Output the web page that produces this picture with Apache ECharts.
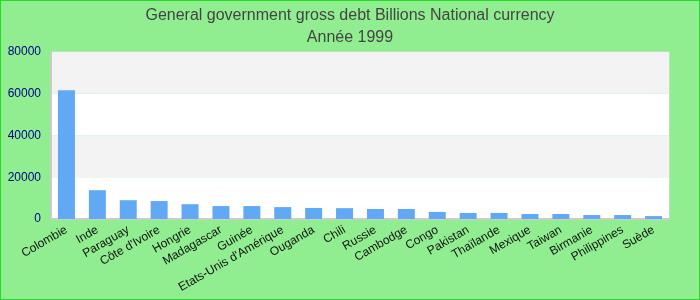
<!DOCTYPE html>
<html><head><meta charset="utf-8">
<script src="https://cdn.jsdelivr.net/npm/echarts@6/dist/echarts.min.js"></script>
<style>html,body{margin:0;padding:0;}#c{width:700px;height:300px;box-sizing:border-box;border:1px solid #22dd22;}</style>
</head><body><div id="c"></div>
<script>
const categories = ["Colombie","Inde","Paraguay","Côte d'Ivoire","Hongrie","Madagascar","Guinée","Etats-Unis d'Amérique","Ouganda","Chili","Russie","Cambodge","Congo","Pakistan","Thaïlande","Mexique","Taiwan","Birmanie","Philippines","Suède"];
const values = [61700,13800,9000,8600,7100,6200,6200,5700,5300,5200,4800,4800,3400,2900,2900,2400,2400,1900,1900,1400];
const titleText = "General government gross debt Billions National currency";
const subtitleText = "Année 1999";
const chart = echarts.init(document.getElementById('c'));
chart.setOption({
  backgroundColor: '#90ee90',
  textStyle: {fontFamily: 'Liberation Sans, Arial, sans-serif'},
  title: {
    text: titleText, subtext: subtitleText, left: 'center', top: 2, itemGap: 6,
    textStyle: {fontSize: 16, fontWeight: 'normal', color: '#444', fontFamily: 'Liberation Sans'},
    subtextStyle: {fontSize: 16, color: '#444', fontFamily: 'Liberation Sans'}
  },
  grid: {left: 50, right: 30, top: 51, bottom: 80, show: true, borderColor: '#ddd', borderWidth: 1, backgroundColor: 'transparent'},
  xAxis: {
    type: 'category', data: categories,
    axisLine: {lineStyle: {color: '#ccc', width: 2}},
    axisTick: {show: false},
    axisLabel: {interval: 0, rotate: 30, color: '#111', fontSize: 12, margin: 10, fontFamily: 'Liberation Sans'}
  },
  yAxis: {
    type: 'value', min: 0, max: 80000, interval: 20000,
    axisLine: {show: true, lineStyle: {color: '#ccc', width: 2}},
    axisTick: {show: false},
    splitLine: {show: false},
    splitArea: {show: true, areaStyle: {color: ['#ffffff', '#f3f3f3']}},
    axisLabel: {color: '#00008b', fontSize: 12, margin: 10, fontFamily: 'Liberation Sans', formatter: v => String(v)}
  },
  series: [{type: 'bar', data: values, barWidth: '55%', itemStyle: {color: '#62a9f5'}}]
});
</script></body></html>
